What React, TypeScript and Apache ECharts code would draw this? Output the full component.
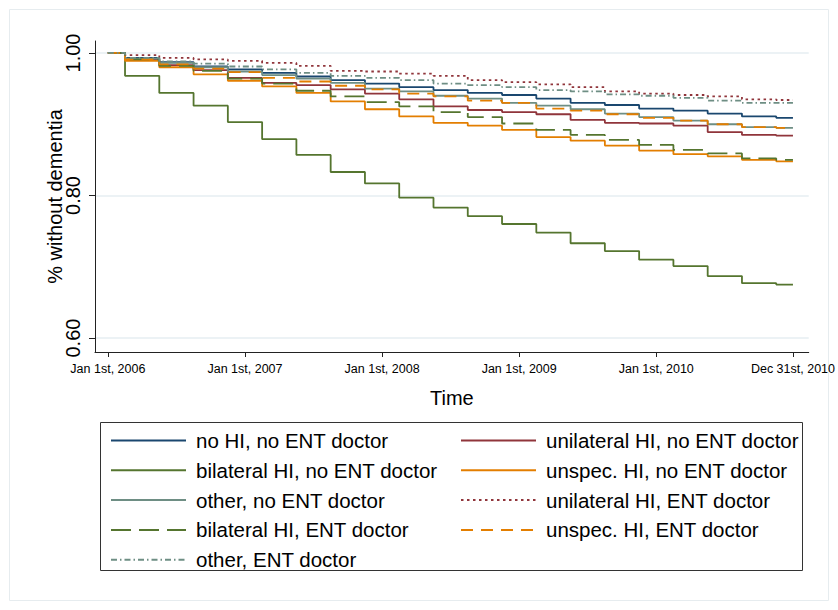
import React, { useEffect, useRef } from "react";
import * as echarts from "echarts";

// Time in years since Jan 1st, 2006 where the survival curves step down
const stepTimes = [0, 0.125, 0.375, 0.625, 0.875, 1.125, 1.375, 1.625, 1.875, 2.125, 2.375, 2.625, 2.875, 3.125, 3.375, 3.625, 3.875, 4.125, 4.375, 4.625, 4.875, 4.997];

const xTickValues = [0, 1, 2, 3, 4, 4.997];
const xTickLabels = ["Jan 1st, 2006", "Jan 1st, 2007", "Jan 1st, 2008", "Jan 1st, 2009", "Jan 1st, 2010", "Dec 31st, 2010"];
const yTickValues = [0.6, 0.8, 1.0];

const noHInoENT = [1, 0.993, 0.987, 0.981, 0.977, 0.972, 0.967, 0.962, 0.957, 0.952, 0.948, 0.944, 0.941, 0.936, 0.930, 0.927, 0.922, 0.919, 0.915, 0.911, 0.909, 0.909];
const uniNoENT = [1, 0.991, 0.983, 0.976, 0.965, 0.958, 0.955, 0.949, 0.943, 0.935, 0.925, 0.920, 0.917, 0.914, 0.906, 0.902, 0.901, 0.898, 0.889, 0.885, 0.884, 0.884];
const biNoENT = [1, 0.968, 0.944, 0.926, 0.903, 0.879, 0.857, 0.833, 0.817, 0.797, 0.783, 0.771, 0.760, 0.748, 0.733, 0.722, 0.710, 0.701, 0.687, 0.677, 0.675, 0.675];
const unspecNoENT = [1, 0.989, 0.980, 0.970, 0.961, 0.953, 0.944, 0.932, 0.921, 0.911, 0.902, 0.898, 0.892, 0.882, 0.877, 0.870, 0.863, 0.858, 0.855, 0.850, 0.848, 0.848];
const otherNoENT = [1, 0.992, 0.986, 0.980, 0.974, 0.969, 0.964, 0.958, 0.950, 0.946, 0.940, 0.936, 0.930, 0.926, 0.921, 0.915, 0.910, 0.905, 0.900, 0.896, 0.895, 0.895];
const uniENT = [1, 0.997, 0.993, 0.991, 0.989, 0.986, 0.982, 0.975, 0.974, 0.971, 0.968, 0.962, 0.959, 0.956, 0.952, 0.946, 0.943, 0.941, 0.939, 0.935, 0.934, 0.934];
const biENT = [1, 0.991, 0.982, 0.975, 0.964, 0.957, 0.947, 0.939, 0.931, 0.925, 0.917, 0.910, 0.901, 0.892, 0.885, 0.878, 0.871, 0.864, 0.859, 0.852, 0.850, 0.850];
const unspecENT = [1, 0.991, 0.984, 0.978, 0.973, 0.965, 0.960, 0.954, 0.949, 0.943, 0.939, 0.933, 0.930, 0.922, 0.919, 0.914, 0.909, 0.905, 0.900, 0.896, 0.895, 0.895];
const otherENT = [1, 0.993, 0.988, 0.985, 0.981, 0.977, 0.972, 0.968, 0.965, 0.962, 0.957, 0.955, 0.952, 0.948, 0.946, 0.942, 0.940, 0.937, 0.933, 0.930, 0.930, 0.930];

const seriesNames = [
  "no HI, no ENT doctor",
  "unilateral HI, no ENT doctor",
  "bilateral HI, no ENT doctor",
  "unspec. HI, no ENT doctor",
  "other, no ENT doctor",
  "unilateral HI, ENT doctor",
  "bilateral HI, ENT doctor",
  "unspec. HI, ENT doctor",
  "other, ENT doctor",
];
const seriesValues = [noHInoENT, uniNoENT, biNoENT, unspecNoENT, otherNoENT, uniENT, biENT, unspecENT, otherENT];

const NAVY = "#1a476f";
const MAROON = "#90353b";
const GREEN = "#55752f";
const ORANGE = "#e37e00";
const TEAL = "#6e8e84";
const seriesColors = [NAVY, MAROON, GREEN, ORANGE, TEAL, MAROON, GREEN, ORANGE, TEAL];
const seriesDash: any[] = ["solid", "solid", "solid", "solid", "solid", [2.5, 3.5], [20, 8], [12, 8], [6, 3, 1.5, 3]];

const FONT = "'Liberation Sans', Arial, Helvetica, sans-serif";

export default function App() {
  const ref = useRef<HTMLDivElement>(null);
  useEffect(() => {
    if (!ref.current) return;
    const chart = echarts.init(ref.current, null, { renderer: "svg" });
    const series = seriesNames.map((name, i) => ({
      name,
      type: "line",
      step: "end",
      symbol: "none",
      data: stepTimes.map((t, j) => [t, seriesValues[i][j]]),
      lineStyle: { color: seriesColors[i], width: 1.8, type: seriesDash[i] },
      itemStyle: { color: seriesColors[i] },
      silent: true,
    }));
    const legendCommon = {
      orient: "vertical",
      padding: 0,
      itemWidth: 75,
      itemHeight: 14,
      itemGap: 8.8,
      itemStyle: { opacity: 0 },
      textStyle: { fontSize: 20.5, color: "#000", fontFamily: FONT, padding: [0, 0, 0, 5] },
      selectedMode: false,
    };
    chart.setOption({
      animation: false,
      backgroundColor: "#fff",
      textStyle: { fontFamily: FONT },
      grid: { left: 95, top: 41, right: 26, bottom: 258, containLabel: false },
      xAxis: {
        type: "value",
        min: -0.094,
        max: 5.112,
        name: "Time",
        nameLocation: "middle",
        nameGap: 36,
        nameMoveOverlap: false,
        nameTextStyle: { fontSize: 20, color: "#000", fontFamily: FONT },
        axisLine: { show: true, onZero: false, lineStyle: { color: "#222", width: 1 } },
        axisTick: { show: true, customValues: xTickValues, length: 5, lineStyle: { color: "#222", width: 1 } },
        axisLabel: {
          customValues: xTickValues,
          fontSize: 12.5,
          color: "#000",
          margin: 10,
          hideOverlap: false,
          formatter: (v: number) => {
            const i = xTickValues.findIndex((x) => Math.abs(x - v) < 1e-6);
            return i >= 0 ? xTickLabels[i] : "";
          },
        },
        splitLine: { show: false },
      },
      yAxis: {
        type: "value",
        min: 0.5804,
        max: 1.0168,
        name: "% without dementia",
        nameLocation: "middle",
        nameRotate: 90,
        nameGap: 30,
        nameMoveOverlap: false,
        nameTextStyle: { fontSize: 20, color: "#000", fontFamily: FONT },
        axisLine: { show: true, onZero: false, lineStyle: { color: "#222", width: 1 } },
        axisTick: { show: true, customValues: yTickValues, length: 6, lineStyle: { color: "#222", width: 1 } },
        axisLabel: {
          customValues: yTickValues,
          rotate: 90,
          align: "center",
          verticalAlign: "bottom",
          fontSize: 20,
          color: "#000",
          margin: 12,
          formatter: (v: number) => v.toFixed(2),
        },
        splitLine: { show: true, lineStyle: { color: "#e6eef2", width: 1.5 } },
      },
      legend: [
        {
          ...legendCommon,
          left: 110,
          top: 430,
          data: [seriesNames[0], seriesNames[2], seriesNames[4], seriesNames[6], seriesNames[8]],
        },
        {
          ...legendCommon,
          left: 460,
          top: 430,
          data: [seriesNames[1], seriesNames[3], seriesNames[5], seriesNames[7]],
        },
      ],
      graphic: [
        {
          type: "rect",
          silent: true,
          shape: { x: 9.5, y: 9.5, width: 819, height: 591 },
          style: { fill: "none", stroke: "#e6ecef", lineWidth: 1 },
        },
        {
          type: "rect",
          silent: true,
          shape: { x: 100.5, y: 422.5, width: 702, height: 148 },
          style: { fill: "none", stroke: "#333", lineWidth: 1 },
        },
      ],
      series,
    });
    return () => chart.dispose();
  }, []);
  return <div ref={ref} style={{ position: "fixed", left: 0, top: 0, width: 838, height: 610 }} />;
}
